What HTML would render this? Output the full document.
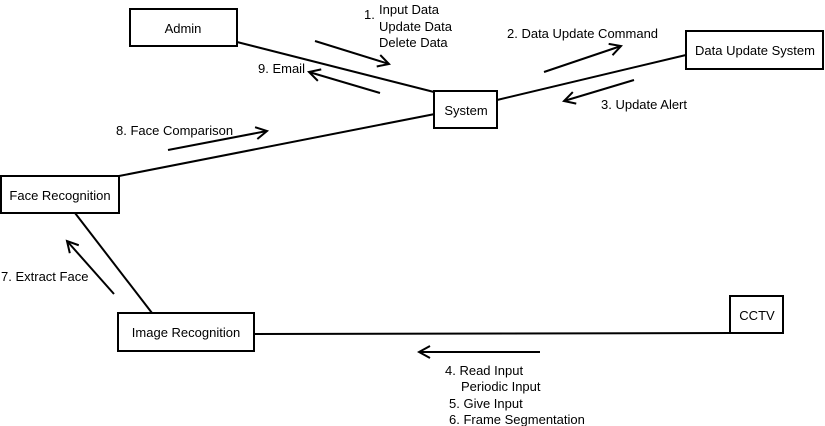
<!DOCTYPE html>
<html><head><meta charset="utf-8"><style>
html,body{margin:0;padding:0;background:#fff;width:825px;height:426px;overflow:hidden}
svg text{font-family:"Liberation Sans","DejaVu Sans",sans-serif;font-size:13px;fill:#000}
</style></head><body>
<svg width="825" height="426" viewBox="0 0 825 426" xmlns="http://www.w3.org/2000/svg">
<defs>
<marker id="a" markerWidth="14" markerHeight="14" refX="12" refY="7" orient="auto" markerUnits="userSpaceOnUse">
<path d="M1,1 L12,7 L1,13" fill="none" stroke="#000" stroke-width="2"/>
</marker>
</defs>
<g stroke="#000" stroke-width="2" fill="none">
<line x1="237" y1="42" x2="434" y2="92"/>
<line x1="497" y1="100" x2="686" y2="55"/>
<line x1="119" y1="176" x2="440" y2="113"/>
<line x1="75" y1="213" x2="152" y2="313"/>
<line x1="251" y1="334" x2="731" y2="333"/>
<line x1="315" y1="41" x2="389" y2="64" marker-end="url(#a)"/>
<line x1="380" y1="93" x2="309" y2="72" marker-end="url(#a)"/>
<line x1="544" y1="72" x2="621" y2="46" marker-end="url(#a)"/>
<line x1="634" y1="80" x2="564" y2="101" marker-end="url(#a)"/>
<line x1="168" y1="150" x2="267" y2="131" marker-end="url(#a)"/>
<line x1="114" y1="294" x2="67" y2="241" marker-end="url(#a)"/>
<line x1="540" y1="352" x2="419" y2="352" marker-end="url(#a)"/>
<rect x="130" y="9" width="107" height="37" fill="#fff"/>
<rect x="686" y="31" width="137" height="38" fill="#fff"/>
<rect x="434" y="91" width="63" height="37" fill="#fff"/>
<rect x="1" y="176" width="118" height="37" fill="#fff"/>
<rect x="118" y="313" width="136" height="38" fill="#fff"/>
<rect x="730" y="296" width="53" height="37" fill="#fff"/>
</g>
<text x="183" y="33" text-anchor="middle">Admin</text>
<text x="755" y="55" text-anchor="middle">Data Update System</text>
<text x="466" y="115" text-anchor="middle">System</text>
<text x="60" y="200" text-anchor="middle">Face Recognition</text>
<text x="186" y="337" text-anchor="middle">Image Recognition</text>
<text x="757" y="320" text-anchor="middle">CCTV</text>
<text x="364" y="19">1.</text>
<text x="379" y="14">Input Data</text>
<text x="379" y="31">Update Data</text>
<text x="379" y="47">Delete Data</text>
<text x="258" y="73">9. Email</text>
<text x="507" y="38">2. Data Update Command</text>
<text x="601" y="109">3. Update Alert</text>
<text x="116" y="135">8. Face Comparison</text>
<text x="1" y="281">7. Extract Face</text>
<text x="445" y="375">4. Read Input</text>
<text x="461" y="391">Periodic Input</text>
<text x="449" y="408">5. Give Input</text>
<text x="449" y="424">6. Frame Segmentation</text>
</svg>
</body></html>
